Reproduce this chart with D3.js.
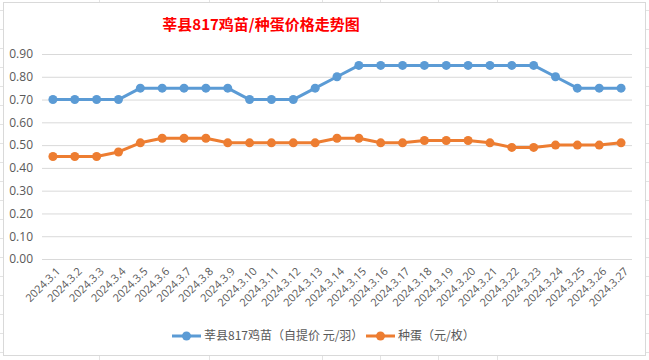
<!DOCTYPE html>
<html>
<head>
<meta charset="utf-8">
<script src="https://cdn.jsdelivr.net/npm/d3@7"></script>
<style>
  body { margin: 0; background: #fff; }
  text { font-family: "Noto Sans CJK SC", "Open Sans", sans-serif; }
</style>
</head>
<body>
<div id="chart"></div>
<script>
// dates on the x axis
var dates = ["2024.3.1","2024.3.2","2024.3.3","2024.3.4","2024.3.5","2024.3.6","2024.3.7",
  "2024.3.8","2024.3.9","2024.3.10","2024.3.11","2024.3.12","2024.3.13","2024.3.14",
  "2024.3.15","2024.3.16","2024.3.17","2024.3.18","2024.3.19","2024.3.20","2024.3.21",
  "2024.3.22","2024.3.23","2024.3.24","2024.3.25","2024.3.26","2024.3.27"];

// chick price (yuan / bird)
var chickPrice = [0.70,0.70,0.70,0.70,0.75,0.75,0.75,0.75,0.75,0.70,0.70,0.70,0.75,0.80,
  0.85,0.85,0.85,0.85,0.85,0.85,0.85,0.85,0.85,0.80,0.75,0.75,0.75];

// egg price (yuan / egg)
var eggPrice = [0.45,0.45,0.45,0.47,0.51,0.53,0.53,0.53,0.51,0.51,0.51,0.51,0.51,0.53,
  0.53,0.51,0.51,0.52,0.52,0.52,0.51,0.49,0.49,0.50,0.50,0.50,0.51];

var yTicks = [0,0.1,0.2,0.3,0.4,0.5,0.6,0.7,0.8,0.9];

var seriesNames = ["莘县817鸡苗（自提价 元/羽）", "种蛋（元/枚）"];
var colors = ["#5B9BD5", "#ED7D31"];

var svgWidth = 649, svgHeight = 360;
var plot = { left: 42, right: 632, top: 54, bottom: 259 };

var svg = d3.select("#chart").append("svg")
  .attr("width", svgWidth)
  .attr("height", svgHeight);

// spreadsheet cells behind the chart
var bg = svg.append("g").attr("stroke", "#e3e3e3").attr("stroke-width", 1);
[99, 209, 322, 380, 438, 497].forEach(function(x) {
  bg.append("line").attr("x1", x + 0.5).attr("x2", x + 0.5).attr("y1", 0).attr("y2", 3);
  bg.append("line").attr("x1", x + 0.5).attr("x2", x + 0.5).attr("y1", 356).attr("y2", 360);
});
d3.range(10, 360, 19).forEach(function(y) {
  bg.append("line").attr("x1", 0).attr("x2", 3).attr("y1", y + 0.5).attr("y2", y + 0.5);
  bg.append("line").attr("x1", 646).attr("x2", 649).attr("y1", y + 0.5).attr("y2", y + 0.5);
});

// chart frame
svg.append("rect")
  .attr("x", 3.5).attr("y", 2.5)
  .attr("width", 642).attr("height", 353)
  .attr("fill", "#fff")
  .attr("stroke", "#d9d9d9");

// title
svg.append("text")
  .attr("x", 261).attr("y", 30)
  .attr("text-anchor", "middle")
  .attr("fill", "#ff0000")
  .attr("font-size", "15px")
  .attr("font-weight", "bold")
  .text("莘县817鸡苗/种蛋价格走势图");

var x = d3.scaleBand()
  .domain(dates)
  .range([plot.left, plot.right]);

var y = d3.scaleLinear()
  .domain([0, 0.9])
  .range([plot.bottom, plot.top]);

// gridlines + y labels
var yAxis = svg.append("g")
  .attr("transform", `translate(${plot.left},0)`)
  .call(d3.axisLeft(y).tickValues(yTicks).tickFormat(d3.format(".2f"))
    .tickSize(-(plot.right - plot.left)).tickPadding(9));
yAxis.select(".domain").remove();
yAxis.selectAll(".tick line").attr("stroke", "#d9d9d9");
yAxis.selectAll(".tick text")
  .attr("fill", "#595959")
  .attr("font-size", "12px")
  .style("font-family", "'Open Sans', 'Noto Sans', sans-serif");

// x labels, rotated
var xAxis = svg.append("g")
  .attr("transform", `translate(0,${plot.bottom})`)
  .call(d3.axisBottom(x).tickSize(0).tickPadding(0));
xAxis.select(".domain").remove();
xAxis.selectAll(".tick text")
  .attr("fill", "#595959")
  .attr("font-size", "11px")
  .style("font-family", "'Open Sans', 'Noto Sans', sans-serif")
  .attr("text-anchor", "end")
  .attr("y", 0).attr("dy", 0)
  .attr("transform", "translate(8,13) rotate(-45)");

var line = d3.line()
  .x(function(d, i) { return x(dates[i]) + x.bandwidth() / 2; })
  .y(function(d) { return y(d); });

[chickPrice, eggPrice].forEach(function(vals, k) {
  svg.append("path")
    .datum(vals)
    .attr("fill", "none")
    .attr("stroke", colors[k])
    .attr("stroke-width", 3)
    .attr("stroke-linejoin", "round")
    .attr("d", line);

  svg.append("g").selectAll("circle")
    .data(vals)
    .enter()
    .append("circle")
    .attr("cx", function(d, i) { return x(dates[i]) + x.bandwidth() / 2; })
    .attr("cy", function(d) { return y(d); })
    .attr("r", 4.5)
    .attr("fill", colors[k]);
});

// legend
var legendX = [172, 366];
seriesNames.forEach(function(name, k) {
  var g = svg.append("g").attr("transform", `translate(${legendX[k]},336)`);
  g.append("line").attr("x1", 0).attr("x2", 29).attr("y1", 0).attr("y2", 0)
    .attr("stroke", colors[k]).attr("stroke-width", 3);
  g.append("circle").attr("cx", 14.5).attr("cy", 0).attr("r", 4.5).attr("fill", colors[k]);
  g.append("text").attr("x", 32).attr("y", 0).attr("dy", "0.35em")
    .attr("fill", "#595959").attr("font-size", "12px")
    .text(name);
});
</script>
</body>
</html>
